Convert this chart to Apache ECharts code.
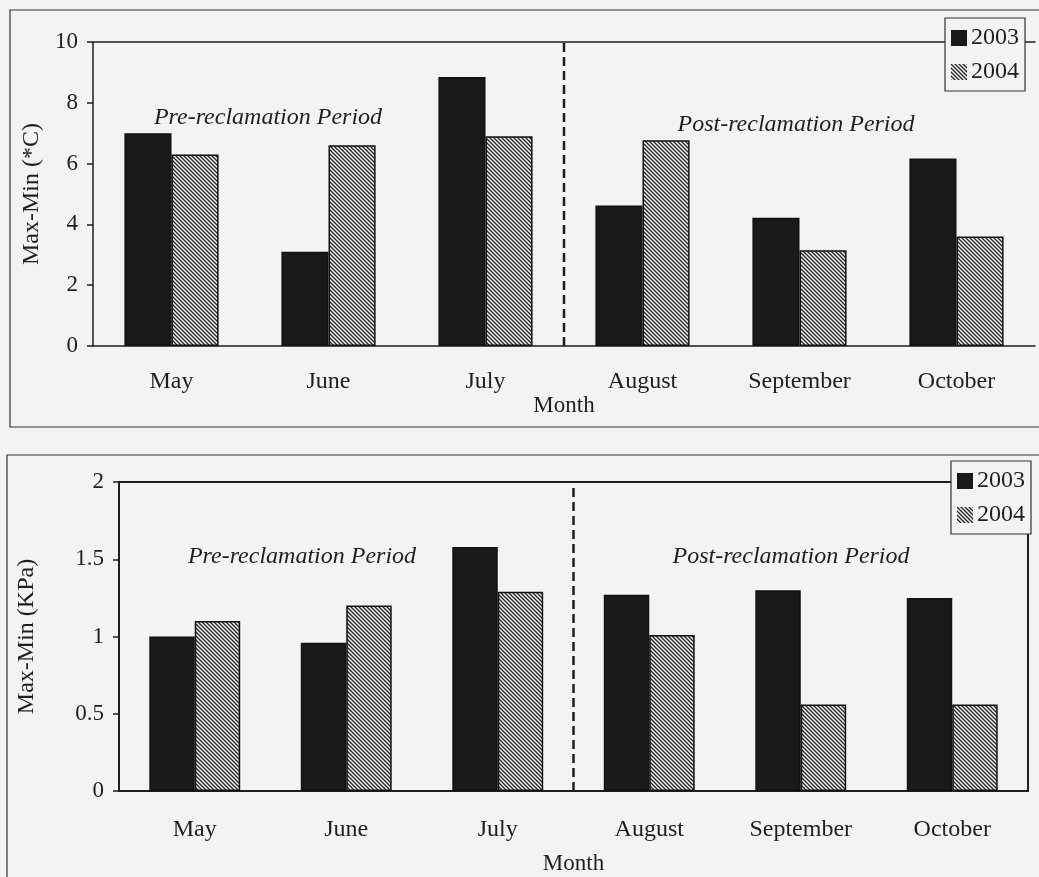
<!DOCTYPE html>
<html>
<head>
<meta charset="utf-8">
<script src="https://cdn.jsdelivr.net/npm/echarts@6/dist/echarts.min.js"></script>
<style>
  html, body { margin: 0; padding: 0; background: #f3f3f3; }
  #box { width: 1039px; height: 877px; }
</style>
</head>
<body>
<div id="box"></div>
<script>
var months = ['May', 'June', 'July', 'August', 'September', 'October'];
var years = ['2003', '2004'];
// top chart: temperature range
var temp2003 = [7.0, 3.1, 8.85, 4.62, 4.22, 6.17];
var temp2004 = [6.3, 6.6, 6.9, 6.77, 3.15, 3.6];
// bottom chart: pressure range
var kpa2003 = [1.0, 0.96, 1.58, 1.27, 1.3, 1.25];
var kpa2004 = [1.1, 1.2, 1.29, 1.01, 0.56, 0.56];
var dividerAt = 3; // between July and August
var tempTicks = [0, 10, 2];
var kpaTicks = [0, 2, 0.5];

// hatch pattern for 2004 bars
function hatch() {
  var c = document.createElement('canvas');
  c.width = 4; c.height = 4;
  var g = c.getContext('2d');
  g.fillStyle = '#f4f4f4';
  g.fillRect(0, 0, 4, 4);
  g.strokeStyle = '#222';
  g.lineWidth = 1.3;
  g.beginPath();
  g.moveTo(-1, -1); g.lineTo(5, 5);
  g.moveTo(-1, 3); g.lineTo(1, 5);
  g.moveTo(3, -1); g.lineTo(5, 1);
  g.stroke();
  return { image: c, repeat: 'repeat' };
}
var pattern = hatch();

var serif = 'Liberation Serif';
var ink = '#1e1e1e';
var myChart = echarts.init(document.getElementById('box'));

function catAxis(grid, w) {
  return {
    type: 'category', gridIndex: grid, data: months,
    name: 'Month', nameLocation: 'middle', nameGap: grid === 0 ? 48 : 61,
    nameTextStyle: { fontFamily: serif, fontSize: 23, color: ink },
    axisLine: { lineStyle: { color: ink, width: w } },
    axisTick: { length: 6, lineStyle: { color: ink, width: 1.5 } },
    axisLabel: { fontFamily: serif, fontSize: 24, color: ink, margin: grid === 0 ? 24 : 27 },
    splitLine: { show: false }
  };
}
function valXAxis(grid, showTop) {
  return {
    type: 'value', gridIndex: grid, min: 0, max: months.length, position: 'top',
    axisLine: { show: showTop, lineStyle: { color: ink, width: 1.5 } },
    axisTick: { show: false }, axisLabel: { show: false }, splitLine: { show: false }
  };
}
function valYAxis(grid, t, label, gap, w) {
  return {
    type: 'value', gridIndex: grid, min: t[0], max: t[1], interval: t[2],
    name: label, nameLocation: 'middle', nameGap: gap, nameRotate: 90,
    nameTextStyle: { fontFamily: serif, fontSize: 24, color: ink },
    axisLine: { show: true, lineStyle: { color: ink, width: w } },
    axisTick: { show: true, length: 6, lineStyle: { color: ink, width: 1.5 } },
    axisLabel: { fontFamily: serif, fontSize: 23, color: ink, margin: 15 },
    splitLine: { show: false }
  };
}
function bars(name, data, grid, fill) {
  return {
    name: name, type: 'bar', xAxisIndex: grid * 2, yAxisIndex: grid, data: data,
    barGap: '0%', barCategoryGap: '40%',
    itemStyle: { color: fill, borderColor: '#111', borderWidth: 1.5 }
  };
}
function divider(grid, top) {
  return {
    type: 'line', xAxisIndex: grid * 2 + 1, yAxisIndex: grid,
    data: [[dividerAt, 0], [dividerAt, top]], symbol: 'none', silent: true,
    lineStyle: { color: ink, width: 2.5, type: [9, 5] }, z: 5
  };
}
function legend(left, top) {
  return {
    data: years, orient: 'vertical', left: left, top: top, itemGap: 10,
    icon: 'rect', itemWidth: 16, itemHeight: 16, padding: [8, 6, 7, 6],
    backgroundColor: '#f3f3f3', borderColor: '#333', borderWidth: 1.2,
    textStyle: { fontFamily: serif, fontSize: 24, color: ink, padding: [0, 0, 0, -1] },
    itemStyle: { borderWidth: 0 }
  };
}
function note(text, x, y) {
  return {
    type: 'text', x: x, y: y, z: 10,
    style: { text: text, fontFamily: serif, fontStyle: 'italic', fontSize: 24,
      fill: ink, textAlign: 'center', textVerticalAlign: 'middle' }
  };
}

var option = {
  backgroundColor: '#f3f3f3',
  animation: false,
  grid: [
    { left: 93, top: 42, width: 942, height: 304 },
    { left: 119, top: 482, width: 909, height: 309, show: true,
      borderColor: ink, borderWidth: 2, backgroundColor: 'transparent' }
  ],
  legend: [legend(945, 18), legend(951, 461)],
  xAxis: [catAxis(0, 1.5), valXAxis(0, true), catAxis(1, 2), valXAxis(1, false)],
  yAxis: [
    valYAxis(0, tempTicks, 'Max-Min (*C)', 49, 1.5),
    valYAxis(1, kpaTicks, 'Max-Min (KPa)', 80, 2)
  ],
  graphic: [
    { type: 'rect', shape: { x: 10, y: 10, width: 1040, height: 417 },
      style: { fill: 'none', stroke: '#333', lineWidth: 1.2 }, z: -1 },
    { type: 'rect', shape: { x: 7, y: 455, width: 1045, height: 440 },
      style: { fill: 'none', stroke: '#333', lineWidth: 1.2 }, z: -1 },
    note('Pre-reclamation Period', 268, 118),
    note('Post-reclamation Period', 796, 125),
    note('Pre-reclamation Period', 302, 557),
    note('Post-reclamation Period', 791, 557)
  ],
  series: [
    bars('2003', temp2003, 0, '#1a1a1a'),
    bars('2004', temp2004, 0, pattern),
    divider(0, tempTicks[1]),
    bars('2003', kpa2003, 1, '#1a1a1a'),
    bars('2004', kpa2004, 1, pattern),
    divider(1, kpaTicks[1])
  ]
};

myChart.setOption(option);
</script>
</body>
</html>
